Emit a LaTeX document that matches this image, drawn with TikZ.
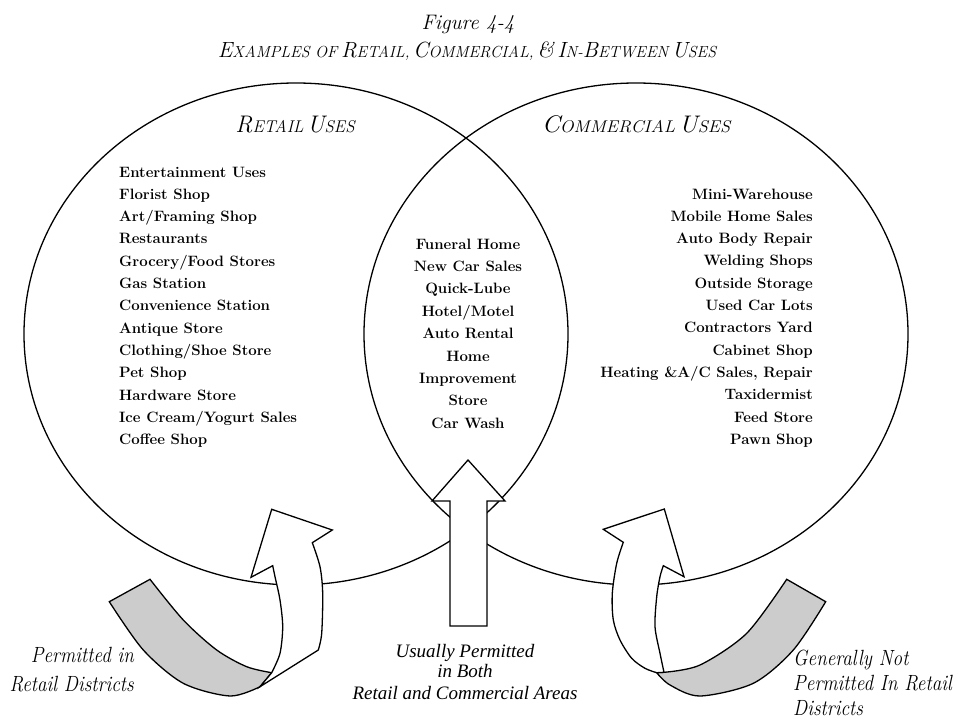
\documentclass[tikz,border=0pt]{standalone}
\usepackage{fontspec}
\newfontfamily\timesfont{Liberation Serif}
\usetikzlibrary{shapes.geometric}
\newcommand{\BigL}[1]{{\fontsize{24}{28}\selectfont #1}}
\newcommand{\SmL}[1]{{\fontsize{17}{20}\selectfont #1}}
\newcommand{\BigT}[1]{{\fontsize{22}{26}\selectfont #1}}
\newcommand{\SmT}[1]{{\fontsize{16}{19}\selectfont #1}}
\newcommand{\condensed}[1]{\scalebox{0.87}[1]{#1}}
\begin{document}
\begin{tikzpicture}[x=1pt,y=-1pt,
  venn/.style={draw, ellipse, line width=1.3pt, minimum width=544pt, minimum height=502pt, inner sep=0pt},
  arrowbody/.style={draw, fill=white, line width=1.3pt, line join=miter},
  band/.style={draw, fill=gray!40, line width=1.3pt, line join=miter},
  item/.style={font=\fontsize{15}{18}\selectfont\bfseries, inner sep=0pt},
  itemL/.style={item, anchor=base west},
  itemR/.style={item, anchor=base east},
  itemM/.style={item, anchor=base},
  heading/.style={font=\itshape, inner sep=0pt, anchor=base},
  sidelabel/.style={font=\fontsize{22}{26}\selectfont\itshape, inner sep=0pt},
  midlabel/.style={font=\fontsize{19}{23}\selectfont\timesfont\itshape, inner sep=0pt, anchor=base}]
\useasboundingbox (0,0) rectangle (958,725);

% title
\node[heading, font=\fontsize{21}{25}\selectfont\itshape] (fig) at (468,30) {Figure 4-4};
\node[heading] (title) at (467,57) {\BigT{E}\SmT{XAMPLES OF} \BigT{R}\SmT{ETAIL}\SmT{,} \BigT{C}\SmT{OMMERCIAL}\SmT{,} \BigT{\&} \BigT{I}\SmT{N-}\BigT{B}\SmT{ETWEEN} \BigT{U}\SmT{SES}};

% circles
\node[venn] (retail) at (296,334) {};
\node[venn] (commercial) at (636,334) {};

% headings
\node[heading] (rhead) at (295,132) {\BigL{R}\SmL{ETAIL} \BigL{U}\SmL{SES}};
\node[heading] (chead) at (636,132) {\scalebox{1.08}[1]{\BigL{C}\SmL{OMMERCIAL} \BigL{U}\SmL{SES}}};

% lists
\foreach \t [count=\i] in {Entertainment Uses, Florist Shop, Art/Framing Shop, Restaurants, Grocery/Food Stores, Gas Station, Convenience Station, Antique Store, Clothing/Shoe Store, Pet Shop, Hardware Store, Ice Cream/Yogurt Sales, Coffee Shop}
  \node[itemL] (L\i) at (119,{177+22.33*(\i-1)}) {\t};
\foreach \t [count=\i] in {Mini-Warehouse, Mobile Home Sales, Auto Body Repair, Welding Shops, Outside Storage, Used Car Lots, Contractors Yard, Cabinet Shop, {Heating \&A/C Sales, Repair}, Taxidermist, Feed Store, Pawn Shop}
  \node[itemR] (R\i) at (813,{199+22.33*(\i-1)}) {\t};
\foreach \t [count=\i] in {Funeral Home, New Car Sales, Quick-Lube, Hotel/Motel, Auto Rental, Home, Improvement, Store, Car Wash}
  \node[itemM] (M\i) at (468,{249+22.4*(\i-1)}) {\t};

% middle arrow
\draw[arrowbody] (468,460) -- (505,501) -- (487,501) -- (487,626) -- (450,626) -- (450,501) -- (432,501) -- cycle;

% left curved arrow
\draw[band] (109.3,601.7) -- (150,579.3)
  -- plot[smooth] coordinates {(150,579.3) (183.3,620) (216.7,650) (246.7,666.7) (271.7,672.7)}
  -- (260,686.7)
  -- plot[smooth] coordinates {(260,686.7) (230,696) (183.3,683.3) (143.3,650) (109.3,601.7)}
  -- cycle;
\draw[arrowbody] (271.7,509.3) -- (332.3,530) -- (312.3,542.7)
  -- plot[smooth] coordinates {(312.3,542.7) (320,566.7) (322.7,593.3) (321.7,633.3) (318.3,650)}
  -- (260,686.7) -- (271.7,672.7)
  -- plot[smooth] coordinates {(271.7,672.7) (280,653.3) (282.7,626.7) (280,600) (275,576.7) (272.7,565.7)}
  -- (251,577.3) -- cycle;

% right curved arrow
\draw[band] (825.7,601.7) -- (786.7,579.3)
  -- plot[smooth] coordinates {(786.7,579.3) (746.7,633.3) (700,665) (664,672.3)}
  -- (656.7,672.7)
  -- plot[smooth] coordinates {(656.7,672.7) (670,685) (700,696) (753.3,683.3) (793.3,650) (825.7,601.7)}
  -- cycle;
\draw[arrowbody] (664.3,509) -- (603.3,529.3) -- (623.3,542.3)
  -- plot[smooth] coordinates {(623.3,542.3) (616.7,563.3) (612.3,593.3) (613.3,620) (620,640) (631.7,658.3) (645,668.3) (656.7,672.7)}
  -- (664,672.3)
  -- plot[smooth] coordinates {(664,672.3) (660,653.3) (655,626.7) (656.7,596.7) (660,576.7) (663.3,565.7)}
  -- (684,576.7) -- cycle;

% labels
\node[sidelabel, anchor=base east] (pl1) at (134,662) {\condensed{Permitted in}};
\node[sidelabel, anchor=base east] (pl2) at (134,691) {\condensed{Retail Districts}};
\node[midlabel] (ml1) at (465,657) {Usually Permitted};
\node[midlabel] (ml2) at (465,677) {in Both};
\node[midlabel] (ml3) at (465,699) {Retail and Commercial Areas};
\node[sidelabel, anchor=base west] (gl1) at (793,665) {\condensed{Generally Not}};
\node[sidelabel, anchor=base west] (gl2) at (793,690) {\condensed{Permitted In Retail}};
\node[sidelabel, anchor=base west] (gl3) at (793,715) {\condensed{Districts}};
\end{tikzpicture}
\end{document}
